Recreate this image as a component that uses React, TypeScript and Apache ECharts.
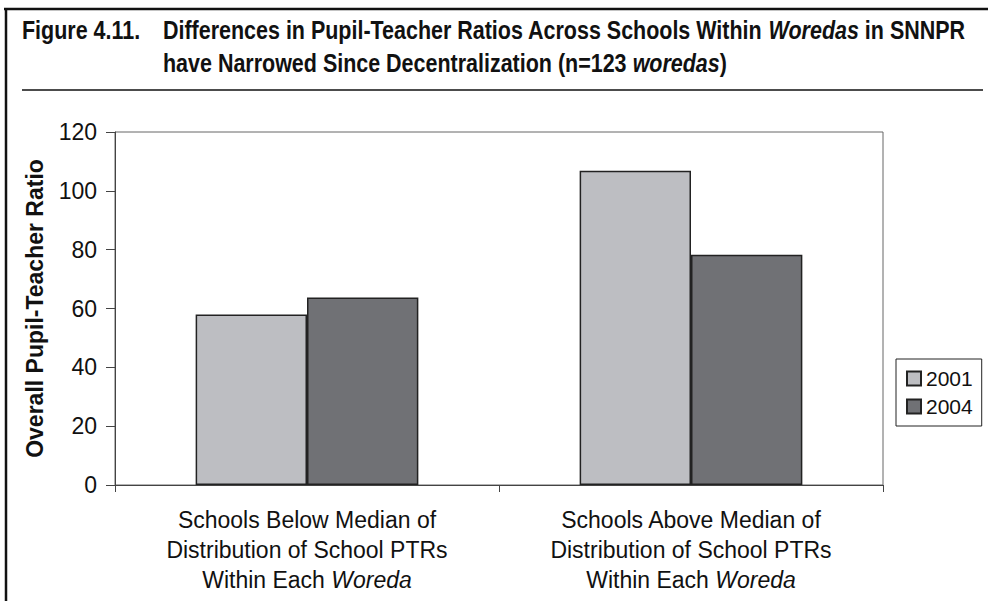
import React, { useEffect, useRef } from "react";
import * as echarts from "echarts";

const categories = [
  "Schools Below Median of\nDistribution of School PTRs\nWithin Each |Woreda",
  "Schools Above Median of\nDistribution of School PTRs\nWithin Each |Woreda",
];
const seriesNames = ["2001", "2004"];
const values2001 = [58, 106.8];
const values2004 = [63.7, 78.3];
const yTicks = { min: 0, max: 120, interval: 20 };
const titleLabel = "Figure 4.11.";
const titleLine1 = [
  { t: "Differences in Pupil-Teacher Ratios Across Schools Within ", i: false },
  { t: "Woredas", i: true },
  { t: " in SNNPR", i: false },
];
const titleLine2 = [
  { t: "have Narrowed Since Decentralization (n=123 ", i: false },
  { t: "woredas", i: true },
  { t: ")", i: false },
];
const yAxisTitle = "Overall Pupil-Teacher Ratio";

const FONT = "'Liberation Sans', Arial, Helvetica, sans-serif";
const TSIZE = 25;

function measure(parts: { t: string; i: boolean }[]) {
  const c = document.createElement("canvas").getContext("2d")!;
  let w = 0;
  for (const p of parts) {
    c.font = `${p.i ? "italic " : ""}bold ${TSIZE}px ${FONT}`;
    w += c.measureText(p.t).width;
  }
  return w;
}

function richText(parts: { t: string; i: boolean }[]) {
  return parts.map((p) => `{${p.i ? "i" : "b"}|${p.t}}`).join("");
}

export default function App() {
  const ref = useRef<HTMLDivElement>(null);
  useEffect(() => {
    if (!ref.current) return;
    const chart = echarts.init(ref.current, null, { renderer: "svg" });
    const textLeft = 163;
    const textRight = 965;
    const sx = (textRight - textLeft) / measure(titleLine1);
    const rich = {
      b: { fontFamily: FONT, fontWeight: "bold", fontSize: TSIZE, fill: "#111" },
      i: { fontFamily: FONT, fontWeight: "bold", fontStyle: "italic", fontSize: TSIZE, fill: "#111" },
    };
    chart.setOption({
      animation: false,
      backgroundColor: "#fff",
      graphic: [
        { type: "line", shape: { x1: 4, y1: 9, x2: 988, y2: 9 }, style: { stroke: "#111", lineWidth: 2.5 } },
        { type: "line", shape: { x1: 6, y1: 8, x2: 6, y2: 601 }, style: { stroke: "#111", lineWidth: 2.5 } },
        { type: "line", shape: { x1: 22, y1: 90, x2: 983, y2: 90 }, style: { stroke: "#111", lineWidth: 1.5 } },
        {
          type: "text",
          x: 22,
          y: 30,
          scaleX: sx,
          style: { text: titleLabel, fontFamily: FONT, fontWeight: "bold", fontSize: TSIZE, fill: "#111", verticalAlign: "middle" },
        },
        {
          type: "text",
          x: textLeft,
          y: 30,
          scaleX: sx,
          style: { text: richText(titleLine1), rich, verticalAlign: "middle", fontSize: TSIZE, fontFamily: FONT },
        },
        {
          type: "text",
          x: textLeft,
          y: 63,
          scaleX: sx,
          style: { text: richText(titleLine2), rich, verticalAlign: "middle", fontSize: TSIZE, fontFamily: FONT },
        },
      ],
      grid: {
        left: 115,
        top: 132,
        right: 105,
        bottom: 116,
        show: true,
        borderColor: "#666",
        borderWidth: 1,
        backgroundColor: "transparent",
      },
      legend: {
        orient: "vertical",
        left: 896,
        top: 359,
        data: seriesNames,
        icon: "rect",
        itemWidth: 14,
        itemHeight: 14,
        itemGap: 7,
        padding: [9, 9, 9, 10],
        borderColor: "#222",
        borderWidth: 1,
        textStyle: { fontFamily: FONT, fontSize: 21, color: "#111" },
      },
      xAxis: {
        type: "category",
        data: categories,
        axisLine: { lineStyle: { color: "#444", width: 1 } },
        axisTick: { show: true, length: 7, lineStyle: { color: "#444" } },
        axisLabel: {
          margin: 20,
          interval: 0,
          formatter: (v: string) => {
            const lines = v.split("\n");
            const last = lines[2].split("|");
            return `{n|${lines[0]}}\n{n|${lines[1]}}\n{n|${last[0]}}{i|${last[1]}}`;
          },
          rich: {
            n: { fontFamily: FONT, fontSize: 23, color: "#111", lineHeight: 30 },
            i: { fontFamily: FONT, fontSize: 23, fontStyle: "italic", color: "#111", lineHeight: 30 },
          },
        },
      },
      yAxis: {
        type: "value",
        min: yTicks.min,
        max: yTicks.max,
        interval: yTicks.interval,
        name: yAxisTitle,
        nameLocation: "middle",
        nameGap: 69,
        nameTextStyle: { fontFamily: FONT, fontSize: 23, fontWeight: "bold", color: "#111" },
        axisLine: { show: true, lineStyle: { color: "#444", width: 1 } },
        axisTick: { show: true, length: 9, lineStyle: { color: "#444" } },
        splitLine: { show: false },
        axisLabel: { margin: 18, fontFamily: FONT, fontSize: 23, color: "#111" },
      },
      series: [
        {
          name: seriesNames[0],
          type: "bar",
          data: values2001,
          barGap: "0%",
          barCategoryGap: "42%",
          itemStyle: { color: "#bdbec2", borderColor: "#222", borderWidth: 1.5 },
        },
        {
          name: seriesNames[1],
          type: "bar",
          data: values2004,
          itemStyle: { color: "#707175", borderColor: "#222", borderWidth: 1.5 },
        },
      ],
    });
    return () => chart.dispose();
  }, []);
  return <div ref={ref} style={{ width: 988, height: 601, position: "absolute", left: 0, top: 0 }} />;
}
